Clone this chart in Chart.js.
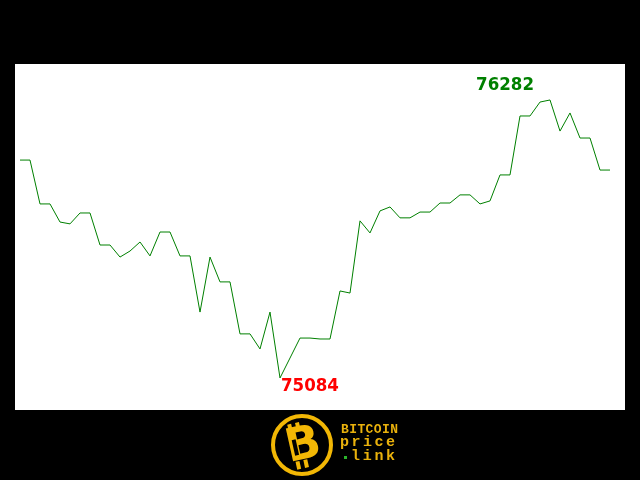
<!DOCTYPE html>
<html>
<head>
<meta charset="utf-8">
<script src="https://cdn.jsdelivr.net/npm/chart.js@4.4.1/dist/chart.umd.min.js"></script>
<style>
  html, body { margin: 0; padding: 0; background: #000; }
  #wrap { width: 640px; height: 480px; position: relative; }
</style>
</head>
<body>
<div id="wrap"><canvas id="priceChart" width="640" height="480"></canvas></div>
<script>
// price samples (left to right)
const prices = [
  76023, 76023, 75834, 75834, 75756, 75748, 75795, 75795, 75657, 75657,
  75605, 75631, 75670, 75610, 75713, 75713, 75610, 75610, 75368, 75605,
  75498, 75498, 75274, 75274, 75209, 75368, 75084, 75170, 75256, 75256,
  75252, 75252, 75459, 75450, 75761, 75709, 75804, 75821, 75774, 75774,
  75799, 75799, 75838, 75838, 75873, 75873, 75834, 75847, 75959, 75959,
  76213, 76213, 76273, 76282, 76148, 76226, 76118, 76118, 75980, 75980
];
const maxLabel = '76282';
const minLabel = '75084';
const logoLines = ['BITCOIN', 'price', 'link'];

const points = prices.map((v, i) => ({ x: i, y: v }));
const maxIdx = prices.indexOf(Math.max(...prices));
const minIdx = prices.indexOf(Math.min(...prices));

// white plot box + extreme labels + logo
const decor = {
  id: 'decor',
  beforeDraw(chart) {
    const ctx = chart.ctx;
    const a = chart.chartArea;
    ctx.save();
    ctx.fillStyle = '#000';
    ctx.fillRect(0, 0, chart.width, chart.height);
    ctx.fillStyle = '#fff';
    ctx.fillRect(a.left, a.top, a.right - a.left, a.bottom - a.top);
    ctx.restore();
  },
  afterDraw(chart) {
    const ctx = chart.ctx;
    const xs = chart.scales.x, ys = chart.scales.y;
    ctx.save();
    ctx.font = 'bold 18.5px "DejaVu Sans Condensed", "DejaVu Sans", sans-serif';
    ctx.textBaseline = 'alphabetic';

    // max label sits up and to the left of the peak
    ctx.fillStyle = '#008000';
    ctx.textAlign = 'right';
    ctx.fillText(maxLabel, xs.getPixelForValue(maxIdx) - 16, ys.getPixelForValue(prices[maxIdx]) - 10);

    // min label just below the low point
    ctx.fillStyle = '#ff0000';
    ctx.textAlign = 'left';
    ctx.fillText(minLabel, xs.getPixelForValue(minIdx) + 1, ys.getPixelForValue(prices[minIdx]) + 13);

    // logo
    const cx = 302, cy = 445, r = 31;
    const gold = '#f2b705';
    ctx.beginPath();
    ctx.arc(cx, cy, r - 2, 0, Math.PI * 2);
    ctx.lineWidth = 4;
    ctx.strokeStyle = gold;
    ctx.stroke();
    ctx.translate(cx, cy);
    ctx.rotate(-0.22);
    ctx.fillStyle = gold;
    ctx.fillRect(-10, -23, 4, 8);
    ctx.fillRect(-2, -23, 4, 8);
    ctx.fillRect(-10, 15, 4, 8);
    ctx.fillRect(-2, 15, 4, 8);
    ctx.font = 'bold 46px "DejaVu Sans", sans-serif';
    ctx.textAlign = 'center';
    ctx.textBaseline = 'middle';
    ctx.fillText('B', 1, 2);
    ctx.fillStyle = '#000';
    ctx.fillRect(-9, -7, 4, 16);
    ctx.setTransform(1, 0, 0, 1, 0, 0);

    ctx.fillStyle = '#e9b10c';
    ctx.textAlign = 'left';
    ctx.textBaseline = 'middle';
    const drawSpaced = (txt, x0, y, step) => {
      for (let i = 0; i < txt.length; i++) ctx.fillText(txt[i], x0 + i * step, y);
    };
    ctx.font = 'bold 13px "Liberation Mono", "DejaVu Sans Mono", monospace';
    drawSpaced(logoLines[0], 341, 430, 8.2);
    ctx.font = 'bold 15px "Liberation Mono", "DejaVu Sans Mono", monospace';
    drawSpaced(logoLines[1], 340, 442, 11.5);
    drawSpaced(logoLines[2], 351, 456, 11.7);
    ctx.fillStyle = '#2bb52b';
    ctx.fillRect(344, 456, 3, 3);
    ctx.restore();
  }
};

const ctx = document.getElementById('priceChart').getContext('2d');
const priceChart = new Chart(ctx, {
  type: 'line',
  data: {
    datasets: [{
      data: points,
      borderColor: '#008000',
      borderWidth: 1,
      pointRadius: 0,
      fill: false,
      tension: 0
    }]
  },
  options: {
    responsive: false,
    animation: false,
    events: [],
    layout: { padding: { left: 15, right: 15, top: 64, bottom: 70 } },
    plugins: { legend: { display: false }, tooltip: { enabled: false } },
    scales: {
      x: { type: 'linear', min: -0.5, max: 60.5, display: false },
      y: { min: 74946, max: 76437, display: false }
    }
  },
  plugins: [decor]
});
</script>
</body>
</html>
